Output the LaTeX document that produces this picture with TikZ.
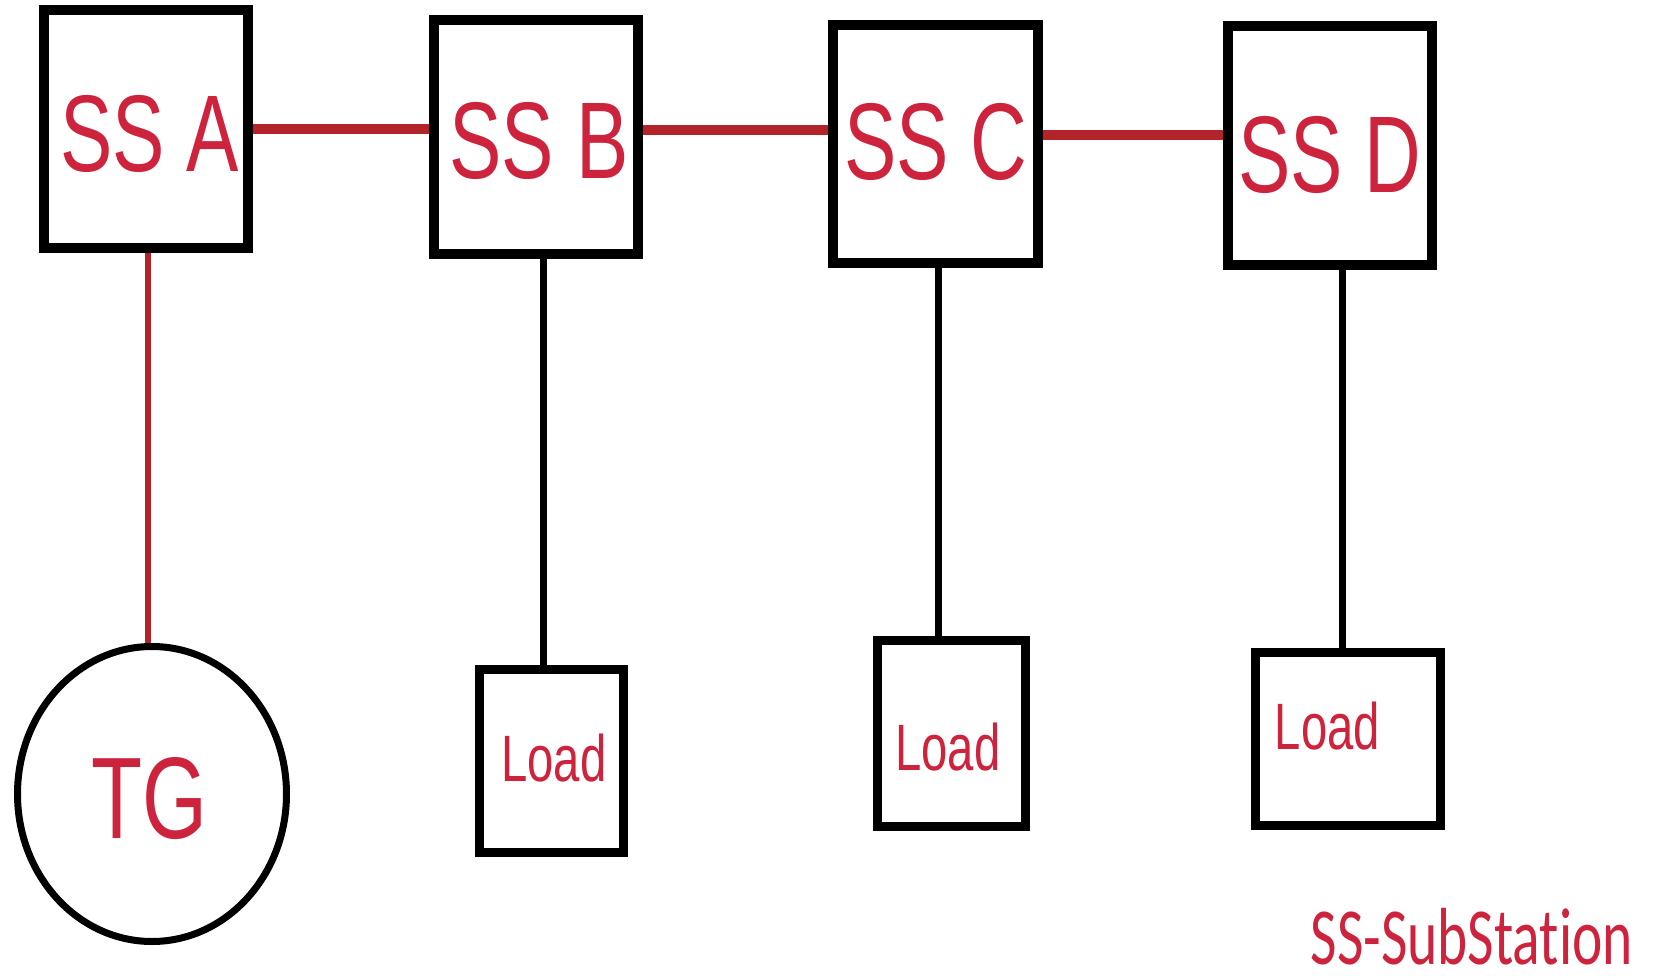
\documentclass[tikz,border=0pt]{standalone}
\usepackage{fontspec}
\setmainfont{Liberation Sans}[FakeStretch=0.72]
\newfontfamily\calibfont{Carlito}[FakeStretch=0.71, Ligatures=NoCommon]
\usetikzlibrary{shapes.geometric}
\definecolor{txtred}{RGB}{205,35,60}
\definecolor{linered}{RGB}{178,36,42}
\tikzset{
  ssbox/.style={draw=black, line width=10pt, rectangle, inner sep=0pt, fill=white},
  loadbox/.style={draw=black, line width=9pt, rectangle, inner sep=0pt, fill=white},
  gen/.style={draw=black, line width=7pt, ellipse, inner sep=0pt, fill=white},
  sslabel/.style={text=txtred, inner sep=0pt, font=\fontsize{109}{120}\selectfont},
  loadlabel/.style={text=txtred, inner sep=0pt, font=\fontsize{65.6}{72}\selectfont},
  hline/.style={draw=linered, line width=10pt},
  vred/.style={draw=linered, line width=5.5pt},
  vblack/.style={draw=black, line width=7pt}
}
\begin{document}
\begin{tikzpicture}[x=1pt,y=-1pt]
\useasboundingbox (0,0) rectangle (1654,976);
% substations
\node[ssbox, minimum width=204pt, minimum height=238pt,
  label={[sslabel, xshift=3.5pt, yshift=-4.5pt]center:SS A}] (A) at (146,129) {};
\node[ssbox, minimum width=204pt, minimum height=234pt,
  label={[sslabel, xshift=3pt, yshift=-4pt]center:SS B}] (B) at (536,137) {};
\node[ssbox, minimum width=205pt, minimum height=238pt,
  label={[sslabel, xshift=0.5pt, yshift=2.5pt]center:SS C}] (C) at (935.5,144) {};
\node[ssbox, minimum width=204pt, minimum height=239pt,
  label={[sslabel, xshift=0pt, yshift=-9pt]center:SS D}] (D) at (1330,145.5) {};
% generator
\node[gen, minimum width=269pt, minimum height=295pt,
  label={[sslabel, font=\fontsize{116}{128}\selectfont, xshift=-2.5pt, yshift=-4.5pt]center:TG}] (TG) at (152,794) {};
% loads
\node[loadbox, minimum width=144pt, minimum height=183pt,
  label={[loadlabel, xshift=2.5pt, yshift=2.5pt]center:Load}] (LB) at (551.5,761) {};
\node[loadbox, minimum width=148pt, minimum height=186pt,
  label={[loadlabel, xshift=-3.5pt, yshift=-13.5pt]center:Load}] (LC) at (951.5,733.5) {};
\node[loadbox, minimum width=185pt, minimum height=173pt,
  label={[loadlabel, xshift=-20.5pt, yshift=12.5pt]center:Load}] (LD) at (1348,739) {};
% connectors
\draw[hline] (A.east) -- (A.east -| B.west);
\draw[hline] ([yshift=7pt]B.east) -- ([yshift=7pt]B.east -| C.west);
\draw[hline] ([yshift=9pt]C.east) -- ([yshift=9pt]C.east -| D.west);
\draw[vred] ([xshift=2pt]A.south) -- ([xshift=2pt]A.south |- TG.north);
\draw[vblack] ([xshift=7pt]B.south) -- ([xshift=7pt]B.south |- LB.north);
\draw[vblack] ([xshift=2.5pt]C.south) -- ([xshift=2.5pt]C.south |- LC.north);
\draw[vblack] ([xshift=12pt]D.south) -- ([xshift=12pt]D.south |- LD.north);
% legend
\node[text=txtred, inner sep=0pt, anchor=base, font=\calibfont\fontsize{81}{88}\selectfont] (legend) at (1472,964) {SS-SubStation};
\end{tikzpicture}
\end{document}
